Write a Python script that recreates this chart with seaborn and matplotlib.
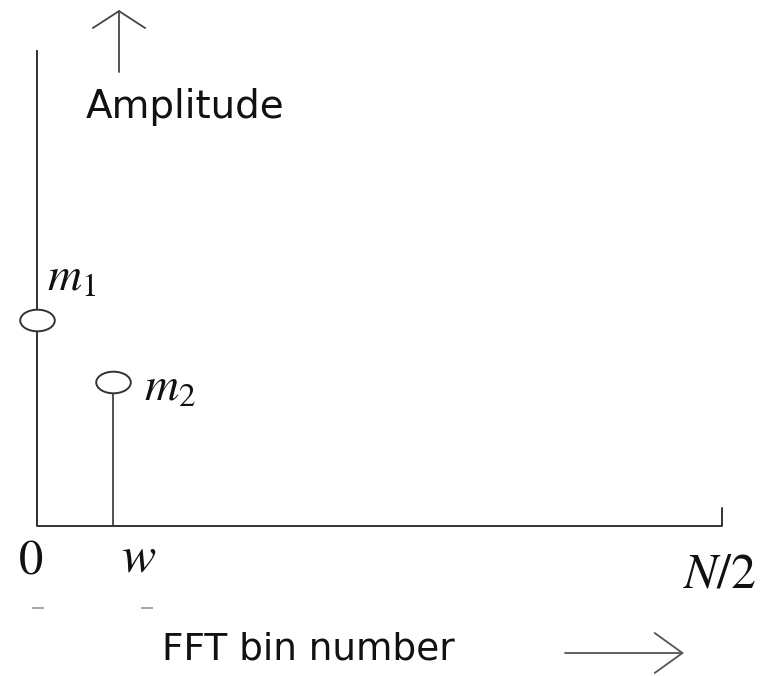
"""Sketch of an FFT amplitude spectrum with two stems (m1 at bin 0, m2 at bin w)."""
import numpy as np
import matplotlib.pyplot as plt
import seaborn as sns
from matplotlib.path import Path
from matplotlib.transforms import Affine2D

sns.set_theme(style="white")
plt.rcParams["font.family"] = ["DejaVu Sans"]
plt.rcParams["mathtext.fontset"] = "stix"

# ---- data ----
bins = [0, 1]            # bin 0 and bin w
amps = [1.0, 0.7]        # m1, m2 (relative amplitude)
labels = [r"$m_1$", r"$m_2$"]
half_n = 9               # position of N/2 on the bin axis
y_top = 2.31             # top of the amplitude axis
tick_labels = [r"$0$", r"$w$", r"$N/2$"]

W, H = 761, 676
LINE = "#333333"

fig = plt.figure(figsize=(W / 100, H / 100), dpi=100)
ax = fig.add_axes([0, 0, 1, 1])
# scale: bin 0 at px 37, N/2 at px 722; amplitude 0 at px 526, 1.0 at px 320
ppb = (722 - 37) / half_n
ppa = 526 - 320
ax.set_xlim(-37 / ppb, (W - 37) / ppb)
ax.set_ylim(-(H - 526) / ppa, 526 / ppa)
ax.axis("off")


def fp(x, y):
    """pixel -> axes fraction"""
    return x / W, 1 - y / H


# axes lines
ax.plot([0, 0], [0, y_top], color=LINE, lw=1.4, solid_capstyle="butt")
ax.plot([0, half_n, half_n], [0, 0, 18 / ppa], color=LINE, lw=1.4)

# stems
ax.vlines(bins, 0, amps, color=LINE, lw=1.2, zorder=2)

# ellipse marker (the sketch is wider than tall)
ellipse = Path.unit_circle().transformed(Affine2D().scale(1.6, 1.0))
sns.scatterplot(x=bins, y=amps, marker=ellipse, s=620, color="white",
                edgecolor=LINE, linewidth=1.4, zorder=3, ax=ax, legend=False)

# stem labels
ax.text(*fp(47, 291), labels[0], transform=ax.transAxes, fontsize=34,
        ha="left", va="baseline", color="#111111")
ax.text(*fp(144, 401), labels[1], transform=ax.transAxes, fontsize=34,
        ha="left", va="baseline", color="#111111")

# bin labels
ax.text(*fp(31, 573), tick_labels[0], transform=ax.transAxes, fontsize=35,
        ha="center", va="baseline", color="#111111")
ax.text(*fp(139, 572), tick_labels[1], transform=ax.transAxes, fontsize=37,
        ha="center", va="baseline", color="#111111")
ax.text(*fp(756, 587), tick_labels[2], transform=ax.transAxes, fontsize=36,
        ha="right", va="baseline", color="#111111")

# little dashes under the labels
for xp in (38, 147):
    ax.plot(*fp(xp, 608), marker="_", ms=8, mew=1.5, color="#a8a8a8",
            transform=ax.transAxes)

# axis titles
ax.text(*fp(185, 118), "Amplitude", transform=ax.transAxes, fontsize=28,
        ha="center", va="baseline", color="#111111")
ax.text(*fp(308, 660), "FFT bin number", transform=ax.transAxes, fontsize=27,
        ha="center", va="baseline", color="#111111")

# arrows
ax.annotate("", xy=fp(119, 10), xytext=fp(119, 72),
            xycoords="axes fraction", textcoords="axes fraction",
            arrowprops=dict(arrowstyle="->,head_length=0.61,head_width=0.94",
                            mutation_scale=20, lw=1.3, color="#444444",
                            shrinkA=0, shrinkB=0))
ax.annotate("", xy=fp(684, 653), xytext=fp(565, 653),
            xycoords="axes fraction", textcoords="axes fraction",
            arrowprops=dict(arrowstyle="->,head_length=1.0,head_width=0.72",
                            mutation_scale=20, lw=1.3, color="#555555",
                            shrinkA=0, shrinkB=0))

fig.savefig("out.png", dpi=100, facecolor="white")
